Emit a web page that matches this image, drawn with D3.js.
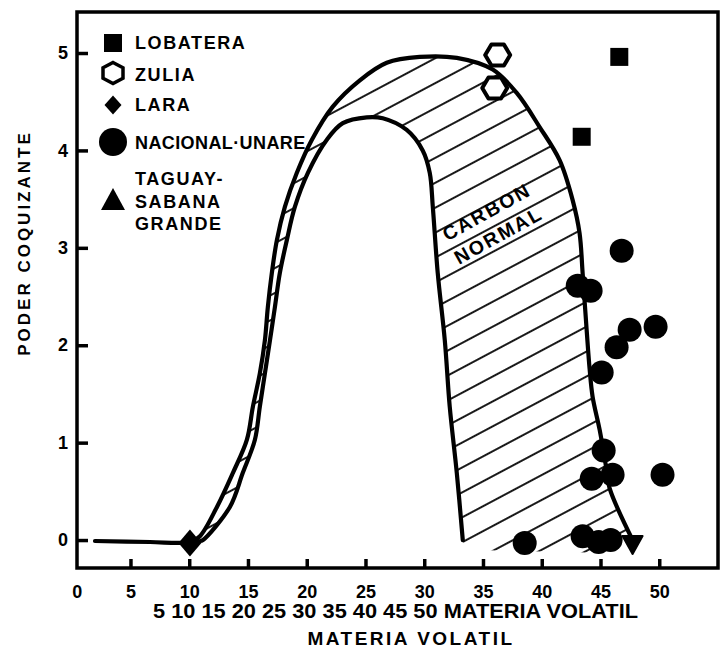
<!DOCTYPE html>
<html>
<head>
<meta charset="utf-8">
<script src="https://cdn.jsdelivr.net/npm/d3@7"></script>
<style>
  body { margin: 0; background: #fff; }
  text { font-family: "Liberation Sans", Arial, sans-serif; font-weight: bold; fill: #000; }
</style>
</head>
<body>
<script>
var svgWidth = 722;
var svgHeight = 650;

var margin = { top: 12, right: 4, bottom: 82, left: 77 };

var width = svgWidth - margin.left - margin.right;
var height = svgHeight - margin.top - margin.bottom;

// tick values
var xTicks = [0, 5, 10, 15, 20, 25, 30, 35, 40, 45, 50];
var yTicks = [0, 1, 2, 3, 4, 5];

// points, [materia volatil, poder coquizante]
var lobatera = [[46.6, 4.96], [43.4, 4.14]];
var zulia = [[36.25, 4.98], [36.0, 4.64]];
var lara = [[10.06, -0.03]];
var nacionalUnare = [
  [46.8, 2.97], [43.06, 2.61], [44.16, 2.56], [49.69, 2.19], [47.48, 2.16],
  [46.37, 1.98], [45.1, 1.72], [45.27, 0.92], [44.25, 0.63], [46.03, 0.67],
  [50.28, 0.67], [38.55, -0.03], [43.48, 0.04], [44.84, -0.02], [45.86, 0.0]
];
var taguay = [[47.73, -0.05]];

// "carbon normal" band
var outerCurve = [
  [1.98, -0.01], [6.66, -0.02], [10.06, -0.02], [10.91, 0.04], [12.36, 0.34],
  [13.72, 0.69], [14.91, 1.03], [15.42, 1.37], [16.01, 1.71], [16.44, 2.05],
  [16.69, 2.39], [17.03, 2.74], [17.46, 3.08], [18.14, 3.42], [19.16, 3.77],
  [20.44, 4.11], [22.22, 4.45], [24.52, 4.72], [26.81, 4.90], [29.62, 4.96],
  [32.77, 4.95], [35.83, 4.83], [37.87, 4.59], [39.82, 4.24], [41.52, 3.90],
  [42.63, 3.49], [43.22, 3.15], [43.48, 2.74], [43.82, 2.16], [44.08, 1.75],
  [44.33, 1.47], [44.93, 1.13], [45.52, 0.72], [45.78, 0.53], [47.73, 0.0]
];
var innerCurve = [
  [10.93, -0.01], [11.17, 0.0], [13.46, 0.34], [14.56, 0.69], [15.59, 1.03],
  [16.01, 1.37], [16.44, 1.71], [16.87, 2.05], [17.29, 2.39], [17.71, 2.74],
  [18.31, 3.08], [18.99, 3.42], [20.1, 3.77], [21.71, 4.11], [23.07, 4.28],
  [25.11, 4.34], [26.47, 4.33], [28.51, 4.21], [29.87, 4.00], [30.47, 3.77],
  [30.73, 3.42], [31.15, 2.74], [31.75, 2.05], [32.17, 1.37], [32.77, 0.69],
  [33.28, 0.0]
];
var hatchBottom = [[47.73, -0.06], [44.93, -0.13], [33.45, -0.10]];

var bandLabel = ["CARBON", "NORMAL"];
var bandLabelAt = [[35.3, 3.37], [36.3, 3.13]];

var legendNames = ["LOBATERA", "ZULIA", "LARA", "NACIONAL·UNARE", "TAGUAY-\nSABANA\nGRANDE"];

var svg = d3.select("body")
  .append("svg")
  .attr("width", svgWidth)
  .attr("height", svgHeight);

var defs = svg.append("defs");
defs.append("pattern")
  .attr("id", "hatch")
  .attr("patternUnits", "userSpaceOnUse")
  .attr("width", 22)
  .attr("height", 22)
  .attr("patternTransform", "rotate(-28)")
  .append("line")
  .attr("x1", 0).attr("y1", 11).attr("x2", 22).attr("y2", 11)
  .attr("stroke", "#000")
  .attr("stroke-width", 1.8);

var chartGroup = svg.append("g")
  .attr("transform", `translate(${margin.left}, ${margin.top})`);

// scales
var xLinearScale = d3.scaleLinear()
  .domain([0.45, 55])
  .range([0, width]);

var yLinearScale = d3.scaleLinear()
  .domain([-0.287, 5.421])
  .range([height, 0]);

// axes
var bottomAxis = d3.axisBottom(xLinearScale)
  .tickValues(xTicks)
  .tickSizeInner(-9)
  .tickSizeOuter(0)
  .tickPadding(17);

var leftAxis = d3.axisLeft(yLinearScale)
  .tickValues(yTicks)
  .tickFormat(d3.format("d"))
  .tickSizeInner(-11)
  .tickSizeOuter(0)
  .tickPadding(9);

var xAxisG = chartGroup.append("g")
  .attr("transform", `translate(0, ${height})`)
  .call(bottomAxis);

var yAxisG = chartGroup.append("g")
  .call(leftAxis);

[xAxisG, yAxisG].forEach(function(g) {
  g.select(".domain").remove();
  g.selectAll(".tick line").attr("stroke", "#000").attr("stroke-width", 3.5);
  g.selectAll(".tick text")
    .style("font-size", "18px")
    .style("font-weight", "bold")
    .attr("fill", "#000");
});
xAxisG.selectAll(".tick").filter(d => d === 0).select("line").remove();
xAxisG.selectAll(".tick").filter(d => d === 0).select("text").attr("dx", 5);

// hatched band
var line = d3.line()
  .x(d => xLinearScale(d[0]))
  .y(d => yLinearScale(d[1]))
  .curve(d3.curveCatmullRom.alpha(0.5));

var outerPart = outerCurve.slice(2);
var regionPath = line(outerPart)
  + hatchBottom.map(d => "L" + xLinearScale(d[0]) + "," + yLinearScale(d[1])).join("")
  + line(innerCurve.slice(1).reverse()).replace(/^M/, "L")
  + "Z";

chartGroup.append("path")
  .attr("d", regionPath)
  .attr("fill", "url(#hatch)")
  .attr("stroke", "none");

chartGroup.append("path")
  .attr("d", line(outerCurve))
  .attr("fill", "none")
  .attr("stroke", "#000")
  .attr("stroke-width", 4.2)
  .attr("stroke-linejoin", "round")
  .attr("stroke-linecap", "round");

chartGroup.append("path")
  .attr("d", line(innerCurve))
  .attr("fill", "none")
  .attr("stroke", "#000")
  .attr("stroke-width", 4.2)
  .attr("stroke-linecap", "round");

// band label
chartGroup.selectAll(".bandLabel")
  .data(bandLabel)
  .enter()
  .append("text")
  .attr("class", "bandLabel")
  .attr("transform", (d, i) => `translate(${xLinearScale(bandLabelAt[i][0])}, ${yLinearScale(bandLabelAt[i][1])}) rotate(-29)`)
  .attr("text-anchor", "middle")
  .attr("dy", "0.36em")
  .style("font-size", "19.5px")
  .style("letter-spacing", "2px")
  .text(d => d);

// frame
chartGroup.append("rect")
  .attr("width", width)
  .attr("height", height)
  .attr("fill", "none")
  .attr("stroke", "#000")
  .attr("stroke-width", 3.5);

// marker shapes
function shape(type, w, h) {
  var a = w / 2, b = h / 2;
  if (type === "square") return `M${-a},${-b}H${a}V${b}H${-a}Z`;
  if (type === "diamond") return `M0,${-b}L${a},0L0,${b}L${-a},0Z`;
  if (type === "hexFlat") return `M${-a},0L${-a / 2},${-b}L${a / 2},${-b}L${a},0L${a / 2},${b}L${-a / 2},${b}Z`;
  if (type === "hexPointy") return `M0,${-b}L${a},${-b / 2}L${a},${b / 2}L0,${b}L${-a},${b / 2}L${-a},${-b / 2}Z`;
  if (type === "triUp") return `M0,${-b}L${a},${b}L${-a},${b}Z`;
  if (type === "triDown") return `M${-a},${-b}L${a},${-b}L0,${b}Z`;
}

function tr(d) {
  return `translate(${xLinearScale(d[0])}, ${yLinearScale(d[1])})`;
}

chartGroup.selectAll(".lobatera")
  .data(lobatera).enter().append("path")
  .attr("transform", tr)
  .attr("d", shape("square", 18, 18))
  .attr("fill", "#000");

chartGroup.selectAll(".zulia")
  .data(zulia).enter().append("path")
  .attr("transform", tr)
  .attr("d", shape("hexFlat", 25, 21))
  .attr("fill", "#fff")
  .attr("stroke", "#000")
  .attr("stroke-width", 4)
  .attr("stroke-linejoin", "round");

chartGroup.selectAll(".lara")
  .data(lara).enter().append("path")
  .attr("transform", tr)
  .attr("d", shape("diamond", 23, 27))
  .attr("fill", "#000");

chartGroup.selectAll(".nacional")
  .data(nacionalUnare).enter().append("circle")
  .attr("cx", d => xLinearScale(d[0]))
  .attr("cy", d => yLinearScale(d[1]))
  .attr("r", 12)
  .attr("fill", "#000");

chartGroup.selectAll(".taguay")
  .data(taguay).enter().append("path")
  .attr("transform", tr)
  .attr("d", shape("triDown", 20, 18))
  .attr("fill", "#000")
  .attr("stroke", "#000")
  .attr("stroke-width", 2)
  .attr("stroke-linejoin", "round");

// legend
var legend = svg.append("g");
var legendMarks = [
  { y: 43, d: shape("square", 18, 18), fill: "#000" },
  { y: 73, d: shape("hexPointy", 20, 21), fill: "#fff" },
  { y: 105, d: shape("diamond", 17, 19), fill: "#000" },
  { y: 142, circle: 14 },
  { y: 199, d: shape("triUp", 24, 22), fill: "#000" }
];
var legendBase = [49, 81, 111, 149, 185];

legendMarks.forEach(function(m, i) {
  if (m.circle) {
    legend.append("circle").attr("cx", 113).attr("cy", m.y).attr("r", m.circle).attr("fill", "#000");
  } else {
    legend.append("path")
      .attr("transform", `translate(113, ${m.y})`)
      .attr("d", m.d)
      .attr("fill", m.fill)
      .attr("stroke", "#000")
      .attr("stroke-width", m.fill === "#fff" ? 3.5 : 0);
  }
  var t = legend.append("text")
    .attr("x", 135)
    .attr("y", legendBase[i])
    .style("font-size", "18px")
    .style("letter-spacing", i === 3 ? "0.4px" : "1.6px");
  legendNames[i].split("\n").forEach(function(s, j) {
    t.append("tspan").attr("x", 135).attr("dy", j === 0 ? 0 : 22.5).text(s);
  });
});

// axis titles
svg.append("text")
  .attr("transform", "translate(30, 243) rotate(-90)")
  .attr("text-anchor", "middle")
  .style("font-size", "17px")
  .style("letter-spacing", "3px")
  .text("PODER COQUIZANTE");

svg.append("text")
  .attr("x", 153)
  .attr("y", 618)
  .attr("textLength", 485)
  .attr("lengthAdjust", "spacingAndGlyphs")
  .style("font-size", "20px")
  .text(xTicks.slice(1).join(" ") + " MATERIA VOLATIL");

svg.append("text")
  .attr("x", 411)
  .attr("y", 645)
  .attr("text-anchor", "middle")
  .style("font-size", "19px")
  .style("letter-spacing", "2.5px")
  .text("MATERIA VOLATIL");
</script>
</body>
</html>
